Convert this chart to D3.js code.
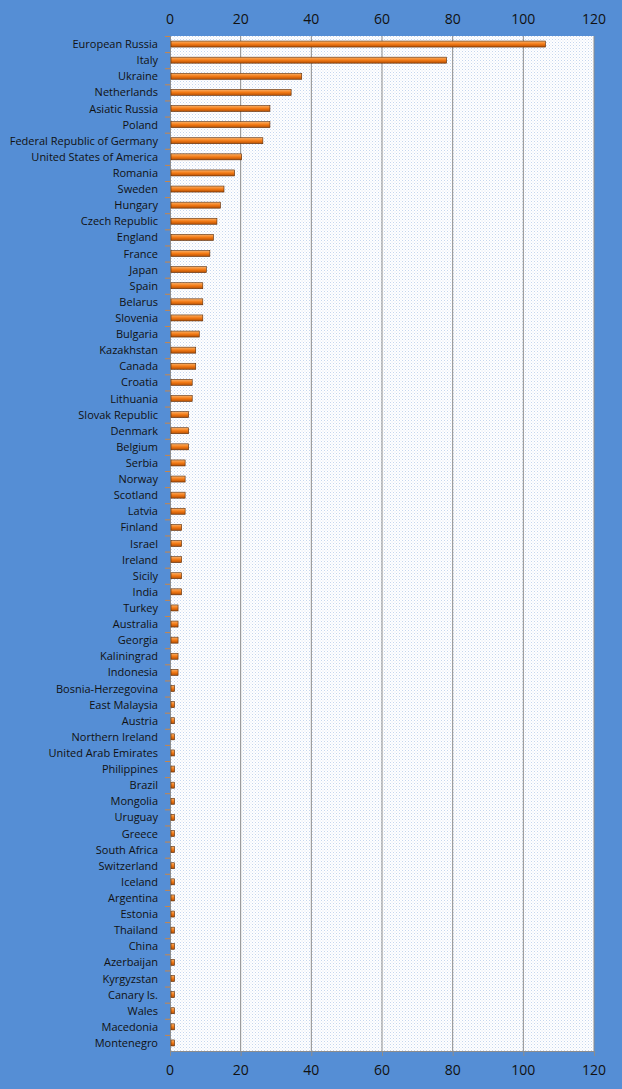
<!DOCTYPE html>
<html><head><meta charset="utf-8">
<script src="https://cdn.jsdelivr.net/npm/d3@7"></script>
<style>body{margin:0;background:#558ED5}text{font-family:"Open Sans","DejaVu Sans",sans-serif}</style>
</head><body><svg id="c" width="622" height="1089"></svg>
<script>
const categories=["European Russia","Italy","Ukraine","Netherlands","Asiatic Russia","Poland","Federal Republic of Germany","United States of America","Romania","Sweden","Hungary","Czech Republic","England","France","Japan","Spain","Belarus","Slovenia","Bulgaria","Kazakhstan","Canada","Croatia","Lithuania","Slovak Republic","Denmark","Belgium","Serbia","Norway","Scotland","Latvia","Finland","Israel","Ireland","Sicily","India","Turkey","Australia","Georgia","Kaliningrad","Indonesia","Bosnia-Herzegovina","East Malaysia","Austria","Northern Ireland","United Arab Emirates","Philippines","Brazil","Mongolia","Uruguay","Greece","South Africa","Switzerland","Iceland","Argentina","Estonia","Thailand","China","Azerbaijan","Kyrgyzstan","Canary Is.","Wales","Macedonia","Montenegro"];
const values=[106,78,37,34,28,28,26,20,18,15,14,13,12,11,10,9,9,9,8,7,7,6,6,5,5,5,4,4,4,4,3,3,3,3,3,2,2,2,2,2,1,1,1,1,1,1,1,1,1,1,1,1,1,1,1,1,1,1,1,1,1,1,1];
const ticks=[0,20,40,60,80,100,120];
const svg=d3.select("#c");
const L=170,R=594,T=36,B=1051;
const x=d3.scaleLinear().domain([0,120]).range([L,R]);
const y=d3.scaleBand().domain(categories).range([T,B]);
const defs=svg.append("defs");
const p=defs.append("pattern").attr("id","dots").attr("width",3).attr("height",3).attr("patternUnits","userSpaceOnUse");
p.append("rect").attr("width",3).attr("height",3).attr("fill","#fff");
p.append("rect").attr("width",1).attr("height",1).attr("fill","#c6d6ee");
p.append("rect").attr("x",1.5).attr("y",1.5).attr("width",1).attr("height",1).attr("fill","#dbe5f4");
const g=defs.append("linearGradient").attr("id","bar").attr("x1",0).attr("x2",0).attr("y1",0).attr("y2",1);
g.append("stop").attr("offset","0").attr("stop-color","#f9b26b");
g.append("stop").attr("offset","0.5").attr("stop-color","#f47a14");
g.append("stop").attr("offset","1").attr("stop-color","#b34f05");
svg.append("rect").attr("x",L).attr("y",T).attr("width",R-L).attr("height",B-T).attr("fill","url(#dots)");
svg.selectAll(".gl").data(ticks.slice(1)).join("line").attr("x1",d=>x(d)).attr("x2",d=>x(d)).attr("y1",T).attr("y2",B).attr("stroke","#8c8c8c").attr("stroke-width",1);
svg.append("line").attr("x1",L).attr("x2",R).attr("y1",B+.5).attr("y2",B+.5).attr("stroke","#8c8c8c");
svg.append("line").attr("x1",L+.5).attr("x2",L+.5).attr("y1",T).attr("y2",B).attr("stroke","#8c8c8c");
svg.selectAll(".bt").data(ticks).join("line").attr("x1",d=>x(d)+.5).attr("x2",d=>x(d)+.5).attr("y1",B).attr("y2",B+5).attr("stroke","#8c8c8c");
svg.selectAll(".yt").data(categories).join("line").attr("x1",L-5).attr("x2",L).attr("y1",d=>y(d)+.5).attr("y2",d=>y(d)+.5).attr("stroke","#c8864a");
svg.selectAll(".bar").data(values).join("rect").attr("x",L+1).attr("y",(d,i)=>y(categories[i])+y.bandwidth()/2-3).attr("width",d=>x(d)-L).attr("height",6).attr("fill","url(#bar)").attr("stroke","#5a2a05").attr("stroke-width",0.6);
svg.selectAll(".lab").data(categories).join("text").attr("x",158).attr("y",d=>y(d)+y.bandwidth()/2+4).attr("text-anchor","end").attr("font-size",11).attr("fill","#111").text(d=>d);
for(const yy of [24,1075]) svg.selectAll(null).data(ticks).join("text").attr("x",d=>x(d)).attr("y",yy).attr("text-anchor","middle").attr("font-size",14).attr("fill","#111").text(d=>d);
</script></body></html>
